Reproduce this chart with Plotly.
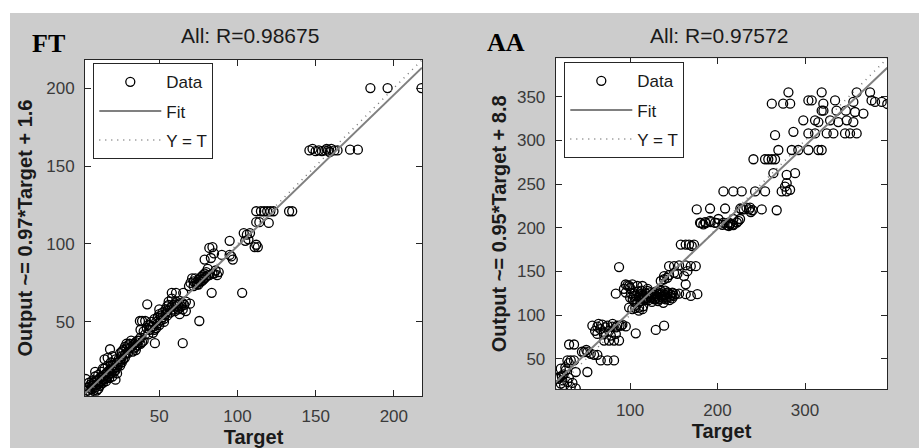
import plotly.graph_objects as go

# ---------------- data: FT panel (Target, Output) ----------------
ft_target = [185, 196, 217.7,
             146, 148, 150, 152, 154, 156, 157, 158, 159, 160, 162, 164, 172, 177,
             112, 115, 117, 119, 121, 123, 133, 135, 112, 114, 120,
             104, 106, 108, 105, 107, 111, 113, 112, 95, 90, 96, 97, 95,
             82, 84, 83, 79, 85, 88, 84, 81, 103, 83.5,
             71, 72, 73, 74, 75, 76, 77, 78, 79, 80, 74, 76, 78, 80, 82, 85, 69, 72,
             70, 73, 75, 77, 79, 81, 86, 87,
             75.6, 65, 69.6, 58, 60.7, 65.3,
             52, 54, 55, 56, 57, 58, 59, 60, 61, 62, 63, 64, 65, 66, 67, 55, 60, 63,
             41, 43, 45, 47, 49, 51, 53, 55, 57, 59, 61, 63, 65, 67, 56, 50, 58, 62,
             40, 42, 43, 44, 45, 46, 47, 48, 49, 50, 51, 52, 44, 46, 48, 50, 53, 54, 42.3, 38, 37.6, 39, 41, 47.2,
             25, 27, 28, 29, 30, 31, 32, 33, 34, 35, 36, 37, 38, 39, 30, 33, 35, 28, 26, 18.5,
             26, 29, 31, 34, 36, 38, 40, 32, 35, 29,
             3, 5, 6, 7, 8, 9, 10, 11, 12, 13, 14, 15, 16, 17, 18, 19, 20, 21, 22, 23, 24, 25,
             7, 9, 11, 13, 15, 17, 19, 21, 23, 12, 14, 16, 18, 20, 22, 10, 8, 6, 15, 17,
             4, 5, 6, 7, 8, 9, 10, 11, 12, 13, 14, 15, 16, 17, 18, 19, 20, 21, 22, 23,
             24, 25, 26, 27, 28, 20, 22, 14, 9, 11]
ft_output = [200, 200, 200,
             160, 161, 159.5, 160, 159.5, 160, 161, 160, 159, 161, 160, 160, 160.5, 160.5,
             121, 121, 121, 121, 121, 121, 121, 121, 114, 114, 113.5,
             107, 106, 107, 102, 103, 98, 98, 99.5, 102, 93, 92, 90, 93,
             97.5, 98, 91, 90, 94, 82, 81, 80, 68.7, 68.7,
             78, 76, 75, 75, 77, 78, 79, 80, 81, 82, 74, 76, 77, 79, 80, 81, 73, 73,
             75, 78, 74, 76, 78, 84, 83, 80,
             50.6, 36.4, 61.7, 68.7, 68.7, 68.7,
             56, 58, 60, 61, 59, 60, 61, 62, 60, 61, 62, 60, 58, 61, 57, 54, 57, 55,
             42, 48, 47, 45, 49, 54, 52, 57, 56, 58, 63, 59, 62, 63, 63, 58, 65, 58,
             44, 46, 42, 48, 50, 47, 52, 50, 53, 55, 51, 53, 45, 43, 46, 48, 50, 55, 61.3, 45, 50.6, 50.6, 50.6, 36.4,
             30, 32, 34, 33, 35, 36, 34, 35, 36, 37, 35, 38, 36, 37, 30, 31, 32, 27, 28, 32.5,
             31, 36, 33, 33, 38, 40, 38, 38, 34, 30,
             13.4, 8, 10, 9, 11, 12, 10, 13, 14, 12, 15, 16, 14, 18, 17, 20, 19, 22, 21, 24, 23, 25,
             12, 15, 16, 18, 20, 22, 24, 18, 17, 9, 11, 12, 14, 15, 13, 6, 6, 7, 26, 27,
             6, 11, 5, 7, 9, 8, 12, 10, 11, 15, 13, 13, 17, 15, 19, 17, 22, 20, 19, 21,
             26, 22, 24, 26, 29, 28, 26, 20, 18, 7]

# ---------------- data: AA panel (Target, Output) ----------------
aa_target = [281, 262, 275, 283, 303.8, 307.6, 319, 320.9, 334.3,
             359, 374.3, 376, 380, 387.6, 394, 355.2, 357.1, 366.7, 355.2,
             346.6, 336, 319, 321,
             298, 311.4, 315.2, 328.6, 338, 347.6,
             286.7, 303.8, 311.4, 324.8, 332.4, 345.7, 351.4, 359, 265.7,
             269.5, 284.8, 292.3, 303.8, 315.2, 319,
             241, 254.3, 258, 262, 265.7,
             263.8, 279, 288.6, 279, 277.1, 273.3, 279, 282.9,
             206.7, 218, 227.6, 242.9, 254.3,
             176.2, 191.4, 208.6, 227.6, 237.1, 250.5, 267.6,
             226, 230, 233, 236, 240, 238, 215, 218, 222, 213,
             180, 185.7, 191.4, 197.1, 201, 206.7, 212.4, 214.3, 218.1, 223.8, 225.7, 183.8,
             180.8, 186.5, 192.2, 199.8, 205.5, 211.2, 216.9,
             158, 163.6, 167.4, 173.1, 170.5,
             144.6, 150.3, 156, 163.6, 169.4, 175.1,
             138.9, 144.6, 150.3, 154.1, 161.7, 165.5, 135.1, 138.9, 142.6, 163.6,
             87.4,
             83.7, 95.1, 98.9, 102.6, 108.3, 114.1, 119.8, 127.4, 135.1, 142.6, 148.3, 156, 163.6, 176.9, 169.4,
             100, 103, 105, 107, 110, 112, 114, 116, 118, 120, 122, 124, 126, 128, 130, 132, 134, 136, 138,
             140, 142, 144, 146, 148, 150, 113, 120, 130, 140, 105, 108, 112, 118, 125, 132, 138, 145,
             101, 104, 106, 109, 111, 115, 117, 119, 121, 123, 127, 129, 131, 133, 135, 137, 139, 141,
             143, 147, 149, 152, 106, 110, 115, 93, 95, 97, 100,
             98.9, 102.6, 110.3, 114.1,
             106.5, 129.4, 138.9,
             56.9, 62.6, 68.3, 74.1, 79.8, 85.5, 91.2, 95.1,
             62.6, 70.3, 78, 83.7, 87.4, 81.7, 70.3, 76,
             60, 64, 66, 70, 72, 76, 80, 84, 88, 90,
             30.3, 36, 47.4, 51.2, 55.1, 58.9, 62.6, 45, 50,
             66.5, 74.1, 81.7, 28.4, 32.2, 36,
             37.9, 51.2,
             20.8, 26.5, 18.9, 22.6, 28.4, 34.1, 32.2, 37.9, 24.6, 20.8, 16.2,
             30, 26, 22, 18, 24, 30]
aa_output = [355, 342, 342, 342, 345.8, 345.8, 355, 342, 345.8,
             355, 355, 345.8, 344, 344, 341.7, 344, 332.5, 330.7, 321,
             334, 334, 334, 334,
             323, 323, 321, 323, 321, 323,
             309.8, 308, 308, 308, 308, 308, 308, 308, 306,
             289, 289, 289, 289, 289, 289,
             278.4, 278.4, 278.4, 278.4, 278.4,
             262.5, 260.6, 262.5, 251, 247, 241.6, 241.6, 243.5,
             241.6, 241.6, 241.6, 241.6, 241.6,
             221, 222, 222, 221, 223, 221, 220,
             222, 221, 223, 221, 220, 218, 205, 203, 206, 202,
             205.7, 206.5, 207.8, 205.7, 210, 205.7, 205.7, 203.8, 210, 207.8, 210, 203.8,
             205.2, 205.2, 206.4, 205.2, 203.4, 202.6, 203.4,
             180.7, 180.7, 180.7, 180.7, 179.1,
             156, 156, 157, 157, 156, 156,
             144.7, 145.8, 148.4, 147.3, 144.7, 150.3, 139, 141, 142.7, 135.2,
             155,
             124.5, 125.7, 133.3, 135.2, 133.3, 133.3, 127.6, 125.7, 127.6, 125.7, 125.7, 124.5, 123.9, 123.9, 121.9,
             120, 118, 125, 122, 120, 124, 118, 121, 125, 119, 122, 120, 124, 118, 122, 120, 125, 121, 119,
             123, 120, 124, 121, 119, 122, 128, 130, 127, 128, 115, 112, 116, 117, 115, 116, 114, 117,
             125, 122, 118, 127, 121, 123, 119, 124, 117, 126, 121, 119, 124, 118, 123, 126, 121, 118,
             126, 123, 125, 124, 108, 105, 110, 130, 135, 134, 131,
             108.6, 106.8, 108.6, 106.8,
             79.1, 83, 87.8,
             88, 86.7, 89, 88, 86.7, 88, 89, 87,
             78.4, 80.2, 76.5, 78.4, 70.8, 70.8, 70.8, 70.8,
             82, 90, 84, 78, 86, 82, 90, 86, 88, 88,
             66.3, 66.3, 57.5, 57.5, 55.7, 54.5, 54.5, 58, 60,
             48.1, 48.1, 48.1, 48.1, 48.1, 48.1,
             34.8, 34.8,
             38.6, 36.7, 29.1, 25.3, 23.4, 22.3, 17.8, 16, 19.7, 21.6, 28,
             45, 40, 30, 27, 32, 28]

# axis limits, ticks and fit coefficients (from the axis labels)
ft_range = [2.5, 218]
aa_range = [15, 394]
ft_ticks = [50, 100, 150, 200]
aa_xticks = [100, 200, 300]
aa_yticks = [50, 100, 150, 200, 250, 300, 350]
ft_fit = [0.97, 1.6]
aa_fit = [0.95, 8.8]
titles = ["All: R=0.98675", "All: R=0.97572"]
ylabels = ["Output ~= 0.97*Target + 1.6", "Output ~= 0.95*Target + 8.8"]
panel_tags = ["FT", "AA"]

W, H = 919, 448
GRAY = "#cccccc"
AX = "#262626"
FIT_C = "#808080"

fig = go.Figure()


def add_panel(tx, oy, rng, fit, xa, ya, leg):
    fig.add_trace(go.Scatter(
        x=tx, y=oy, mode="markers", name="Data", xaxis=xa, yaxis=ya, legend=leg,
        legendgroup=leg + "d",
        marker=dict(symbol="circle-open", size=9, color="black", line=dict(width=1.3))))
    fx = [rng[0], rng[1]]
    fy = [fit[0] * v + fit[1] for v in fx]
    fig.add_trace(go.Scatter(
        x=fx, y=fy, mode="lines", name="Fit", xaxis=xa, yaxis=ya, legend=leg,
        legendgroup=leg + "f",
        line=dict(color=FIT_C, width=2)))
    fig.add_trace(go.Scatter(
        x=fx, y=fx, mode="lines", name="Y = T", xaxis=xa, yaxis=ya, legend=leg,
        legendgroup=leg + "y",
        line=dict(color="#7a7a7a", width=1.5, dash="1px,5px")))


add_panel(ft_target, ft_output, ft_range, ft_fit, "x", "y", "legend")
add_panel(aa_target, aa_output, aa_range, aa_fit, "x2", "y2", "legend2")

tickfont = dict(family="Liberation Sans, Arial, sans-serif", size=17, color="#3a3a3a")
titlefont = dict(family="Liberation Sans, Arial, sans-serif", size=20, color="#1a1a1a", weight="bold")


def axis(domain, rng, ticks, title, anchor, standoff, tls):
    return dict(domain=domain, range=rng, tickvals=ticks, showgrid=False, zeroline=False,
                showline=True, linecolor=AX, linewidth=1, mirror="ticks",
                ticks="inside", ticklen=6, tickcolor=AX, tickwidth=1,
                tickfont=tickfont, ticklabelstandoff=tls, anchor=anchor,
                title=dict(text=title, font=titlefont, standoff=standoff))


legend_common = dict(bgcolor="white", bordercolor=AX, borderwidth=1,
                     font=dict(family="Liberation Sans, Arial, sans-serif", size=17, color="#1a1a1a"),
                     xanchor="left", yanchor="top", itemwidth=62,
                     traceorder="grouped", tracegroupgap=4)

fig.update_layout(
    width=W, height=H, margin=dict(l=0, r=0, t=0, b=0),
    paper_bgcolor=GRAY, plot_bgcolor="white",
    xaxis=axis([85 / W, 422 / W], ft_range, ft_ticks, "Target", "y", 1, 5),
    yaxis=axis([1 - 396 / H, 1 - 60 / H], ft_range, ft_ticks, ylabels[0], "x", 8, 6),
    xaxis2=axis([555.7 / W, 887.3 / W], aa_range, aa_xticks, "Target", "y2", 1, 5),
    yaxis2=axis([1 - 389.3 / H, 1 - 58.3 / H], aa_range, aa_yticks, ylabels[1], "x2", 4, 6),
    legend=dict(x=93.3 / W, y=1 - 63.3 / H, **legend_common),
    legend2=dict(x=564.3 / W, y=1 - 62.3 / H, **legend_common),
    shapes=[
        dict(type="rect", xref="paper", yref="paper", x0=0, x1=1, y0=1 - 13 / H, y1=1,
             fillcolor="white", line=dict(width=0), layer="below"),
        dict(type="rect", xref="paper", yref="paper", x0=0, x1=10 / W, y0=0, y1=1,
             fillcolor="white", line=dict(width=0), layer="below"),
    ],
    annotations=[
        dict(text=titles[0], x=250 / W, y=1 - 35 / H, xref="paper", yref="paper",
             showarrow=False, xanchor="center", yanchor="middle",
             font=dict(family="Liberation Sans, Arial, sans-serif", size=21, color="#1a1a1a")),
        dict(text=titles[1], x=719 / W, y=1 - 35 / H, xref="paper", yref="paper",
             showarrow=False, xanchor="center", yanchor="middle",
             font=dict(family="Liberation Sans, Arial, sans-serif", size=21, color="#1a1a1a")),
        dict(text=panel_tags[0], x=48 / W, y=1 - 43.5 / H, xref="paper", yref="paper",
             showarrow=False, xanchor="center", yanchor="middle",
             font=dict(family="Liberation Serif, Times New Roman, serif", size=26, color="black", weight="bold")),
        dict(text=panel_tags[1], x=506 / W, y=1 - 42.5 / H, xref="paper", yref="paper",
             showarrow=False, xanchor="center", yanchor="middle",
             font=dict(family="Liberation Serif, Times New Roman, serif", size=26, color="black", weight="bold")),
    ],
)

fig.write_html("out.html", config={"displayModeBar": False},
               post_script="document.body.style.margin='0px';")
